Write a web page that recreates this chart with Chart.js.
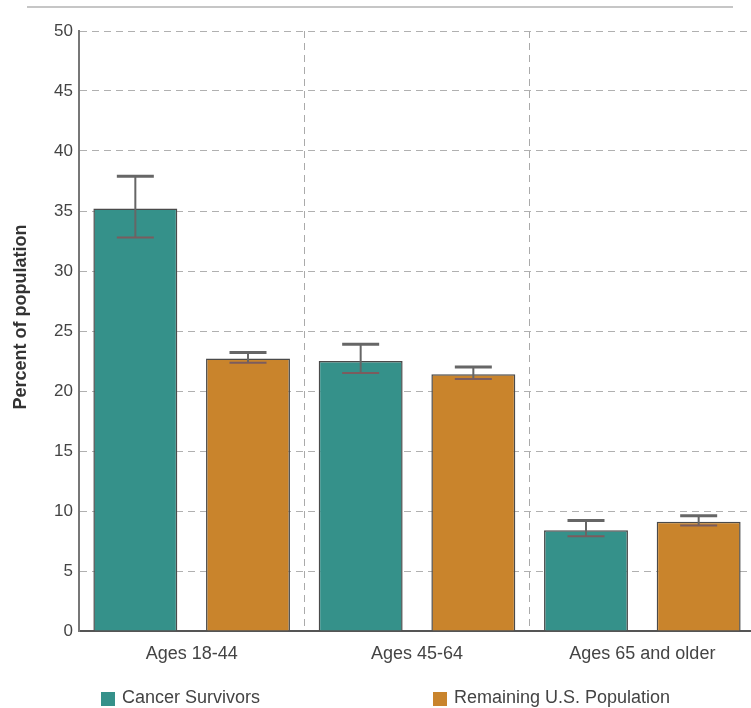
<!DOCTYPE html>
<html>
<head>
<meta charset="utf-8">
<script src="https://cdn.jsdelivr.net/npm/chart.js@4"></script>
<style>
  html, body { margin: 0; padding: 0; background: #fff; overflow: hidden; width: 751px; height: 708px; }
  #wrap { position: absolute; left: 0; top: 0; width: 760px; height: 708px; }
  #topline { position: absolute; left: 27px; top: 6px; width: 706px; height: 2px; background: #c6c6c6; }
  .leg { position: absolute; top: 686px; font-family: "Liberation Sans", Arial, sans-serif; font-size: 18px; color: #444; white-space: nowrap; line-height: 22px; }
  .sw { position: absolute; top: 6px; width: 14px; height: 14px; }
</style>
</head>
<body>
<div id="topline"></div>
<div id="wrap"><canvas id="c" width="760" height="708"></canvas></div>
<div class="leg" style="left:101px;"><span class="sw" style="left:0;background:#35918a;"></span><span style="margin-left:21px;">Cancer Survivors</span></div>
<div class="leg" style="left:433px;"><span class="sw" style="left:0;background:#c9842c;"></span><span style="margin-left:21px;">Remaining U.S. Population</span></div>
<script>
const categories = ["Ages 18-44", "Ages 45-64", "Ages 65 and older"];
const seriesNames = ["Cancer Survivors", "Remaining U.S. Population"];
const survivors = [35.2, 22.5, 8.4];
const survivorsHigh = [37.9, 23.9, 9.2];
const survivorsLow = [32.8, 21.5, 7.9];
const remaining = [22.7, 21.4, 9.1];
const remainingHigh = [23.2, 22.0, 9.6];
const remainingLow = [22.35, 21.0, 8.8];
const yTicks = [0, 5, 10, 15, 20, 25, 30, 35, 40, 45, 50];
const yTitle = "Percent of population";

const errors = [
  { high: survivorsHigh, low: survivorsLow },
  { high: remainingHigh, low: remainingLow }
];

const errorBarPlugin = {
  id: 'errorBars',
  afterDatasetsDraw(chart) {
    const ctx = chart.ctx;
    const y = chart.scales.y;
    chart.data.datasets.forEach((ds, di) => {
      const meta = chart.getDatasetMeta(di);
      meta.data.forEach((bar, i) => {
        const x = bar.x;
        const yh = y.getPixelForValue(errors[di].high[i]);
        const yl = y.getPixelForValue(errors[di].low[i]);
        const half = 18.5;
        ctx.save();
        ctx.strokeStyle = '#666';
        ctx.lineWidth = 2;
        ctx.beginPath();
        ctx.moveTo(x, yh); ctx.lineTo(x, yl);
        ctx.stroke();
        ctx.lineWidth = 3;
        ctx.beginPath();
        ctx.moveTo(x - half, yh); ctx.lineTo(x + half, yh);
        ctx.stroke();
        ctx.strokeStyle = '#7b5c5e';
        ctx.lineWidth = 2;
        ctx.beginPath();
        ctx.moveTo(x - half, yl); ctx.lineTo(x + half, yl);
        ctx.stroke();
        ctx.restore();
      });
    });
  }
};

const yTitlePlugin = {
  id: 'yTitle',
  afterDraw(chart) {
    const ctx = chart.ctx;
    ctx.save();
    ctx.translate(21, 317);
    ctx.rotate(-Math.PI / 2);
    ctx.font = 'bold 18px "Liberation Sans", Arial, sans-serif';
    ctx.fillStyle = '#333';
    ctx.textAlign = 'center';
    ctx.textBaseline = 'middle';
    ctx.fillText(yTitle, 0, 0);
    ctx.restore();
  }
};

new Chart(document.getElementById('c'), {
  type: 'bar',
  data: {
    labels: categories,
    datasets: [
      { label: seriesNames[0], data: survivors, backgroundColor: '#35918a', borderColor: '#4a4a4a', borderWidth: 1.5 },
      { label: seriesNames[1], data: remaining, backgroundColor: '#c9842c', borderColor: '#4a4a4a', borderWidth: 1.5 }
    ]
  },
  options: {
    responsive: false,
    animation: false,
    layout: { padding: { top: 31, right: 5, left: 0, bottom: 0 } },
    datasets: { bar: { categoryPercentage: 1.0, barPercentage: 0.745 } },
    plugins: { legend: { display: false }, tooltip: { enabled: false } },
    scales: {
      x: {
        afterFit(s) { s.height = 77; },
        grid: { offset: true, drawTicks: false, color: '#aaaaaa', lineWidth: 1 },
        border: { display: true, color: '#555', width: 2, dash: [7, 5] },
        ticks: { padding: 12, color: '#444', font: { family: '"Liberation Sans", Arial, sans-serif', size: 18 } }
      },
      y: {
        min: 0, max: 50,
        afterFit(s) { s.width = 79; },
        afterBuildTicks(s) { s.ticks = yTicks.map(v => ({ value: v })); },
        grid: { drawTicks: false, color: '#b0b0b0', lineWidth: 1 },
        border: { display: true, color: '#777', width: 2, dash: [7, 5] },
        ticks: { padding: 6, color: '#444', font: { family: '"Liberation Sans", Arial, sans-serif', size: 17 } }
      }
    }
  },
  plugins: [errorBarPlugin, yTitlePlugin]
});
</script>
</body>
</html>
